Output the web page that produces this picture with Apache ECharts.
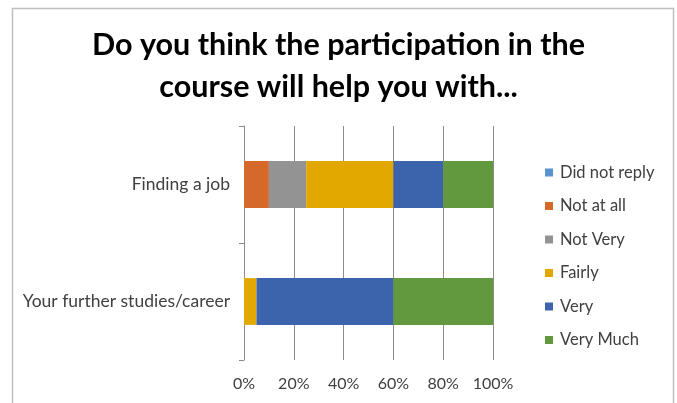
<!DOCTYPE html>
<html>
<head>
<meta charset="utf-8">
<script src="https://cdn.jsdelivr.net/npm/echarts@6/dist/echarts.min.js"></script>
<style>
html,body{margin:0;padding:0;background:#fff;}
#c{width:677px;height:403px;}
</style>
</head>
<body>
<div id="c"></div>
<script>
var categories = ["Finding a job", "Your further studies/career"];
var seriesNames = ["Did not reply", "Not at all", "Not Very", "Fairly", "Very", "Very Much"];
var didNotReply = [0, 0];
var notAtAll = [10, 0];
var notVery = [15, 0];
var fairly = [35, 5];
var very = [20, 55];
var veryMuch = [20, 40];
var xTicks = [0, 20, 40, 60, 80, 100];
var colors = ["#5B93CE", "#D4692A", "#939393", "#E2A800", "#3C64AC", "#62993F"];

var values = [didNotReply, notAtAll, notVery, fairly, very, veryMuch];
var font = "Lato, 'Open Sans', sans-serif";

var chart = echarts.init(document.getElementById('c'), null, {renderer: 'canvas'});
chart.setOption({
  animation: false,
  backgroundColor: '#fff',
  graphic: [{
    type: 'rect',
    shape: {x: 12.5, y: 8.5, width: 661, height: 420},
    style: {fill: 'none', stroke: '#BFBFBF', lineWidth: 1.5},
    silent: true
  }],
  title: {
    text: "Do you think the participation in the\ncourse will help you with...",
    left: 'center',
    top: 19,
    textStyle: {fontFamily: font, fontWeight: 'bold', fontSize: 30.5, lineHeight: 42, color: '#000'}
  },
  legend: {
    orient: 'vertical',
    left: 540,
    top: 159,
    itemWidth: 8,
    itemHeight: 8,
    itemGap: 16.5,
    icon: 'rect',
    textStyle: {fontFamily: font, fontSize: 16.5, color: '#404040', padding: [0,0,0,2]},
    data: seriesNames
  },
  grid: {left: 244, right: 184, top: 126, bottom: 43, containLabel: false},
  xAxis: {
    type: 'value',
    min: 0, max: 100, interval: 20,
    axisLine: {show: false},
    axisTick: {show: false},
    splitLine: {show: true, lineStyle: {color: '#8C8C8C', width: 1}},
    axisLabel: {
      fontFamily: font, fontSize: 16, color: '#404040', margin: 16,
      formatter: function(v){ return xTicks.indexOf(v) >= 0 ? v + '%' : ''; }
    }
  },
  yAxis: {
    type: 'category',
    inverse: true,
    data: categories,
    axisLine: {show: true, lineStyle: {color: '#8C8C8C', width: 1}},
    axisTick: {show: true, length: 5, lineStyle: {color: '#8C8C8C'}},
    axisLabel: {fontFamily: font, fontSize: 17.5, color: '#404040', margin: 14}
  },
  series: seriesNames.map(function(n, i){
    return {
      name: n,
      type: 'bar',
      stack: 'total',
      barWidth: '40%',
      itemStyle: {color: colors[i]},
      data: values[i]
    };
  })
});
</script>
</body>
</html>
